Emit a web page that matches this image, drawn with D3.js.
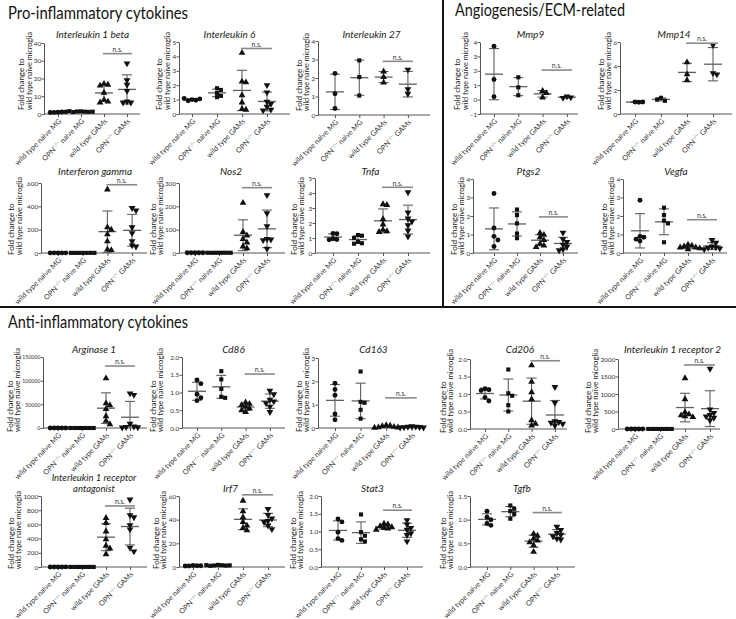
<!DOCTYPE html>
<html>
<head>
<meta charset="utf-8">
<script src="https://cdn.jsdelivr.net/npm/d3@7"></script>
<style>
body { margin: 0; background: #fff; }
svg { font-family: Lato, "Open Sans", sans-serif; }
</style>
</head>
<body>
<svg id="fig" width="736" height="619"></svg>
<script>
// categories (x axis)
const groups = ["wt naive", "ko naive", "wt GAMs", "ko GAMs"];
const groupLabels = [
    ["wild type naive MG"],
    ["OPN", "\u2212/\u2212", " naive MG"],
    ["wild type GAMs"],
    ["OPN", "\u2212/\u2212", " GAMs"]
];

// fold change values, one array per group
const il1b  = [[1.0,1.1,0.9,1.2,0.8],[1.5,1.3,1.4,1.2,1.1,1.3,1.6],[17,16.5,16,12,8,7,6.5],[28.5,19,16.5,13,7,6.5,6.5]];
const il6   = [[1.0,0.95,0.92,1.05,1.08],[1.79,1.67,1.45,1.26,1.17],[4.25,2.25,2.2,1.3,0.8,0.35,0.3],[2.0,1.5,0.85,0.7,0.5,0.3,0.25]];
const il27  = [[2.25,1.15,0.35],[2.95,2.05,1.05],[2.35,2.05,1.75],[2.45,1.4,1.15]];
const mmp9  = [[3.7,1.4,0.2],[1.55,0.85,0.3],[0.6,0.45,0.15],[0.22,0.15,0.12]];
const mmp14 = [[1.0,1.0,0.98],[1.35,1.1,1.2],[4.3,3.3,2.8],[5.75,3.4,3.3]];
const ifng  = [[1.0,0.9,1.1,1.2,0.8],[1.0,1.1,0.9,1.2,0.8,1.0,1.1],[545,220,200,160,100,30,25],[385,365,220,170,100,65,55]];
const nos2  = [[1.0,0.9,1.1,1.2,0.8],[1.0,1.1,0.9,1.2,0.8,1.0,1.1],[215,90,75,60,45,28,20],[248,170,115,60,58,55,18]];
const tnfa  = [[1.3,1.28,0.95,0.9,0.88],[1.2,1.15,1.0,0.75,0.65,0.62],[3.25,3.2,2.25,1.9,1.55,1.45,1.4],[4.05,2.7,2.3,2.1,1.85,1.5,1.1]];
const ptgs2 = [[3.22,1.35,0.9,0.7,0.35],[2.35,2.05,1.6,1.05,0.8],[1.08,0.98,0.85,0.7,0.5,0.4,0.32],[1.1,0.75,0.6,0.45,0.35,0.2,0.15]];
const vegfa = [[2.85,0.9,0.85,0.75,0.65],[2.45,2.05,1.75,1.6,0.58],[0.45,0.4,0.35,0.3,0.3,0.25,0.2],[0.7,0.55,0.35,0.3,0.28,0.25,0.2]];
const arg1  = [[1.0,0.9,1.1,1.2,0.8],[1.0,1.1,0.9,1.2,0.8,1.0,1.1],[105000,52000,48000,40000,25000,15000,8000],[73000,70000,9000,3000,2000,1500,1000]];
const cd86  = [[1.35,1.25,0.95,0.85,0.77],[1.6,1.37,1.1,0.88,0.85],[0.72,0.68,0.65,0.6,0.55,0.5,0.45],[1.05,0.95,0.8,0.75,0.7,0.6,0.45]];
const cd163 = [[1.92,1.65,1.4,0.6,0.35],[2.42,1.12,1.08,0.78,0.4],[0.12,0.1,0.08,0.05,0.03,0.02,0.01],[0.08,0.06,0.05,0.04,0.03,0.02,0.02]];
const cd206 = [[1.15,1.12,1.1,0.9,0.8],[1.7,1.02,0.95,0.68,0.5],[1.82,1.35,1.05,0.85,0.25,0.15,0.1],[1.2,0.75,0.22,0.2,0.18,0.15,0.1]];
const il1r2 = [[1.0,0.9,1.1,1.2,0.8],[1.0,1.1,0.9,1.2,0.8,1.0,1.1],[1450,850,480,420,390,360,340],[1720,560,460,400,360,320,250]];
const il1ra = [[1.0,0.9,1.1,1.2,0.8],[1.0,1.1,0.9,1.2,0.8,1.0,1.1],[690,620,500,390,300,260,180],[950,730,700,590,530,270,220]];
const irf7  = [[1.2,1.0,0.8,1.1,0.9],[1.8,1.5,1.3,1.2,1.0,1.4,1.6],[56,47,42,38,35,33,31],[49,44,41,39,38,35,32]];
const stat3 = [[1.35,1.27,0.98,0.8,0.75],[1.48,0.98,0.88,0.78,0.72],[1.22,1.2,1.15,1.12,1.1,1.08,1.05],[1.32,1.2,1.1,1.05,0.95,0.9,0.72]];
const tgfb  = [[1.18,1.05,1.0,0.92,0.88],[1.3,1.23,1.18,1.12,1.02],[0.7,0.66,0.6,0.56,0.52,0.46,0.32],[0.85,0.78,0.72,0.68,0.65,0.6,0.58]];

const values = [il1b, il6, il27, mmp9, mmp14, ifng, nos2, tnfa, ptgs2, vegfa,
                arg1, cd86, cd163, cd206, il1r2, il1ra, irf7, stat3, tgfb];

const titles = [["Interleukin 1 beta"], ["Interleukin 6"], ["Interleukin 27"], ["Mmp9"], ["Mmp14"],
    ["Interferon gamma"], ["Nos2"], ["Tnfa"], ["Ptgs2"], ["Vegfa"],
    ["Arginase 1"], ["Cd86"], ["Cd163"], ["Cd206"], ["Interleukin 1 receptor 2"],
    ["Interleukin 1 receptor", "antagonist"], ["Irf7"], ["Stat3"], ["Tgfb"]];

// y tick labels
const tickSets = [
    [0,10,20,30,40], [0,1,2,3,4,5], [0,1,2,3,4], [-1,0,1,2,3,4], [0,2,4,6],
    [0,200,400,600], [0,100,200,300], [0,1,2,3,4,5], [0,1,2,3,4], [0,1,2,3,4],
    [0,50000,100000,150000], [0,0.5,1,1.5,2], [0,1,2,3], [0,0.5,1,1.5,2], [0,500,1000,1500,2000],
    [0,200,400,600,800,1000], [0,20,40,60], [0,0.5,1,1.5,2], [0,0.5,1,1.5]
];
const decimalTicks = [11, 13, 17, 18];

// height of the n.s. bracket between the two GAM groups
const nsLevels = [34, 4.55, 2.9, 2.05, 5.9, 585, 280, 4.38, 1.95, 1.8,
                  131000, 1.52, 1.29, 1.95, 1830, 860, 61, 1.6, 1.15];

// panel placement (labX = baseline of the inner y-label line)
const layout = [
    {x0:44,  xEnd:140, g0:58,  step:23,   yTop:43,  yBot:114, row:0, labX:32},
    {x0:179, xEnd:290, g0:192, step:25,   yTop:42,  yBot:114, row:0, labX:169.5},
    {x0:318, xEnd:430, g0:335, step:24.3, yTop:41,  yBot:115, row:0, labX:309},
    {x0:480, xEnd:578, g0:494, step:24.3, yTop:42,  yBot:114, row:0, labX:469},
    {x0:620, xEnd:732, g0:635, step:26,   yTop:42,  yBot:114, row:0, labX:612},
    {x0:41,  xEnd:147, g0:58,  step:24.7, yTop:183, yBot:253, row:1, labX:21.5},
    {x0:179, xEnd:285, g0:195, step:24,   yTop:183, yBot:253, row:1, labX:166},
    {x0:315, xEnd:430, g0:333, step:25,   yTop:178, yBot:253, row:1, labX:304},
    {x0:473, xEnd:578, g0:494, step:23,   yTop:179, yBot:253, row:1, labX:465},
    {x0:623, xEnd:727, g0:640, step:24,   yTop:179, yBot:253, row:1, labX:615},
    {x0:43,  xEnd:147, g0:58,  step:24,   yTop:357, yBot:428, row:2, labX:21},
    {x0:182, xEnd:285, g0:197, step:24.3, yTop:357, yBot:428, row:2, labX:163},
    {x0:318, xEnd:423, g0:335, step:25.6, yTop:358, yBot:428, row:2, labX:309},
    {x0:470, xEnd:567, g0:485, step:23.3, yTop:359, yBot:429, row:2, labX:453},
    {x0:618, xEnd:720, g0:635, step:25,   yTop:359, yBot:429, row:2, labX:602},
    {x0:41,  xEnd:147, g0:58,  step:24,   yTop:496, yBot:567, row:3, labX:24.5},
    {x0:179, xEnd:285, g0:193, step:25,   yTop:496, yBot:567, row:3, labX:166},
    {x0:321, xEnd:423, g0:338, step:23,   yTop:496, yBot:567, row:3, labX:303},
    {x0:470, xEnd:575, g0:487, step:23.3, yTop:496, yBot:567, row:3, labX:453}
];
const titleBase = [38, 174.5, 353, 492];
const labStart = [-4, 2, 4, 2];
const labLen = [78, 78, 84, 78];

const svg = d3.select("#fig");
const ink = "#111", axisCol = "#555", statCol = "#5f5f5f", nsCol = "#8a8a8a";

// section headings and dividers
svg.append("line").attr("x1", 443).attr("x2", 443).attr("y1", 0).attr("y2", 307)
    .attr("stroke", "#111").attr("stroke-width", 2);
svg.append("line").attr("x1", 0).attr("x2", 736).attr("y1", 307).attr("y2", 307)
    .attr("stroke", "#111").attr("stroke-width", 2);

[["Pro-inflammatory cytokines", 8, 19, 180],
 ["Angiogenesis/ECM-related", 455, 16, 170],
 ["Anti-inflammatory cytokines", 8, 328, 180]].forEach(h => {
    svg.append("text")
        .attr("x", h[1]).attr("y", h[2])
        .attr("font-size", "17px")
        .attr("fill", "#111")
        .attr("textLength", h[3])
        .attr("lengthAdjust", "spacingAndGlyphs")
        .text(h[0]);
});

const shapes = [d3.symbolCircle, d3.symbolSquare, d3.symbolTriangle, d3.symbolTriangle];
const shapeSize = [19, 17, 20, 20];

// spread overlapping points sideways, GraphPad style
function swarm(vals, cx, y, d) {
    const placed = [];
    vals.forEach(v => {
        const py = y(v);
        for (let k = 0; k < 30; k++) {
            const off = k === 0 ? 0 : (k % 2 ? 1 : -1) * Math.ceil(k / 2) * d;
            const px = cx + off;
            if (placed.every(p => Math.hypot(p.x - px, p.y - py) >= d)) {
                placed.push({x: px, y: py});
                break;
            }
        }
    });
    return placed;
}

values.forEach((data, i) => {
    const L = layout[i];
    const ticks = tickSets[i];
    const g = svg.append("g").attr("class", "panel");

    const W = L.xEnd - L.x0;
    const pad = (W / L.step - 3) / 2;
    const x = d3.scalePoint()
        .domain(groups)
        .range([L.x0, L.xEnd])
        .padding(pad)
        .align((L.g0 - L.x0) / (W - 3 * L.step));

    const y = d3.scaleLinear()
        .domain([ticks[0], ticks[ticks.length - 1]])
        .range([L.yBot, L.yTop]);

    const fmt = decimalTicks.includes(i) ? d3.format(".1f") : d3.format("d");
    const tickFont = ticks[ticks.length - 1] >= 10000 ? 5.2 : 6.4;

    // y axis
    const yAx = g.append("g")
        .attr("transform", `translate(${L.x0},0)`)
        .call(d3.axisLeft(y).tickValues(ticks).tickSize(2.5).tickSizeOuter(0).tickFormat(fmt));
    yAx.select(".domain").attr("stroke", axisCol);
    yAx.selectAll(".tick line").attr("stroke", axisCol);
    yAx.selectAll(".tick text").attr("fill", "#333").attr("font-size", tickFont + "px")
        .attr("font-family", "Lato, sans-serif").attr("x", -2.8);

    // x axis
    const xAx = g.append("g")
        .attr("transform", `translate(0,${L.yBot})`)
        .call(d3.axisBottom(x).tickSize(3).tickSizeOuter(0).tickFormat(""));
    xAx.select(".domain").attr("stroke", axisCol).attr("d", `M${L.x0},0H${L.xEnd}`);
    xAx.selectAll(".tick line").attr("stroke", axisCol);

    groups.forEach((gr, j) => {
        const t = g.append("text")
            .attr("transform", `translate(${x(gr) + 2},${L.yBot + 6}) rotate(-45)`)
            .attr("text-anchor", "end")
            .attr("dy", "0.35em")
            .attr("font-size", "7.3px")
            .attr("fill", "#333");
        const parts = groupLabels[j];
        if (parts.length === 1) {
            t.text(parts[0]);
        } else {
            t.append("tspan").text(parts[0]);
            t.append("tspan").attr("font-size", "4.7px").attr("dy", -2.9).text(parts[1]);
            t.append("tspan").attr("dy", 2.9).text(parts[2]);
        }
    });

    // y label, two lines, kept clear of the tick labels
    let tickLeft = L.x0;
    yAx.selectAll(".tick text").each(function () {
        tickLeft = Math.min(tickLeft, L.x0 - 2.8 - this.getComputedTextLength());
    });
    const lx = Math.min(L.labX, tickLeft - 2);
    const ly = L.yBot + labStart[L.row];
    [["Fold change to", lx - 7.5, null], ["wild type na\u00efve microglia", lx, labLen[L.row]]].forEach(lab => {
        const t = g.append("text")
            .attr("transform", `translate(${lab[1]},${ly}) rotate(-90)`)
            .attr("font-size", "8px")
            .attr("fill", "#222")
            .text(lab[0]);
        if (lab[2]) t.attr("textLength", lab[2]).attr("lengthAdjust", "spacingAndGlyphs");
    });

    // title (two-line titles get a smaller font and more leading)
    const cx = (x(groups[0]) + x(groups[3])) / 2;
    const multi = titles[i].length > 1;
    titles[i].forEach((line, k, arr) => {
        g.append("text")
            .attr("x", cx)
            .attr("y", titleBase[L.row] - (arr.length - 1 - k) * 11.5)
            .attr("text-anchor", "middle")
            .attr("font-size", multi ? "9.5px" : "10px")
            .attr("font-style", "italic")
            .attr("fill", "#222")
            .text(line);
    });

    // mean and SD
    data.forEach((vals, j) => {
        const gx = x(groups[j]);
        const m = d3.mean(vals), sd = d3.deviation(vals);
        const lo = Math.max(m - sd, y.domain()[0]), hi = m + sd;
        g.append("line").attr("x1", gx).attr("x2", gx).attr("y1", y(lo)).attr("y2", y(hi))
            .attr("stroke", statCol).attr("stroke-width", 1.1);
        [lo, hi].forEach(v => {
            if (v === y.domain()[0]) return;
            g.append("line").attr("x1", gx - 5).attr("x2", gx + 5).attr("y1", y(v)).attr("y2", y(v))
                .attr("stroke", statCol).attr("stroke-width", 1.1);
        });
        g.append("line").attr("x1", gx - 9).attr("x2", gx + 9).attr("y1", y(m)).attr("y2", y(m))
            .attr("stroke", statCol).attr("stroke-width", 1.3);

        const pts = swarm(vals, gx, y, 3.9);
        g.selectAll(null).data(pts).enter().append("path")
            .attr("d", d3.symbol(shapes[j], shapeSize[j]))
            .attr("transform", p => `translate(${p.x},${p.y})` + (j === 3 ? " rotate(180)" : ""))
            .attr("fill", ink);
    });

    // n.s. bracket
    const ny = y(nsLevels[i]);
    g.append("line")
        .attr("x1", x(groups[2]) - 1).attr("x2", x(groups[3]) + 5)
        .attr("y1", ny).attr("y2", ny)
        .attr("stroke", nsCol).attr("stroke-width", 1.6);
    g.append("text")
        .attr("x", (x(groups[2]) + x(groups[3])) / 2 + 2)
        .attr("y", ny - 1.8)
        .attr("text-anchor", "middle")
        .attr("font-size", "6.8px")
        .attr("fill", "#333")
        .text("n.s.");
});
</script>
</body>
</html>
